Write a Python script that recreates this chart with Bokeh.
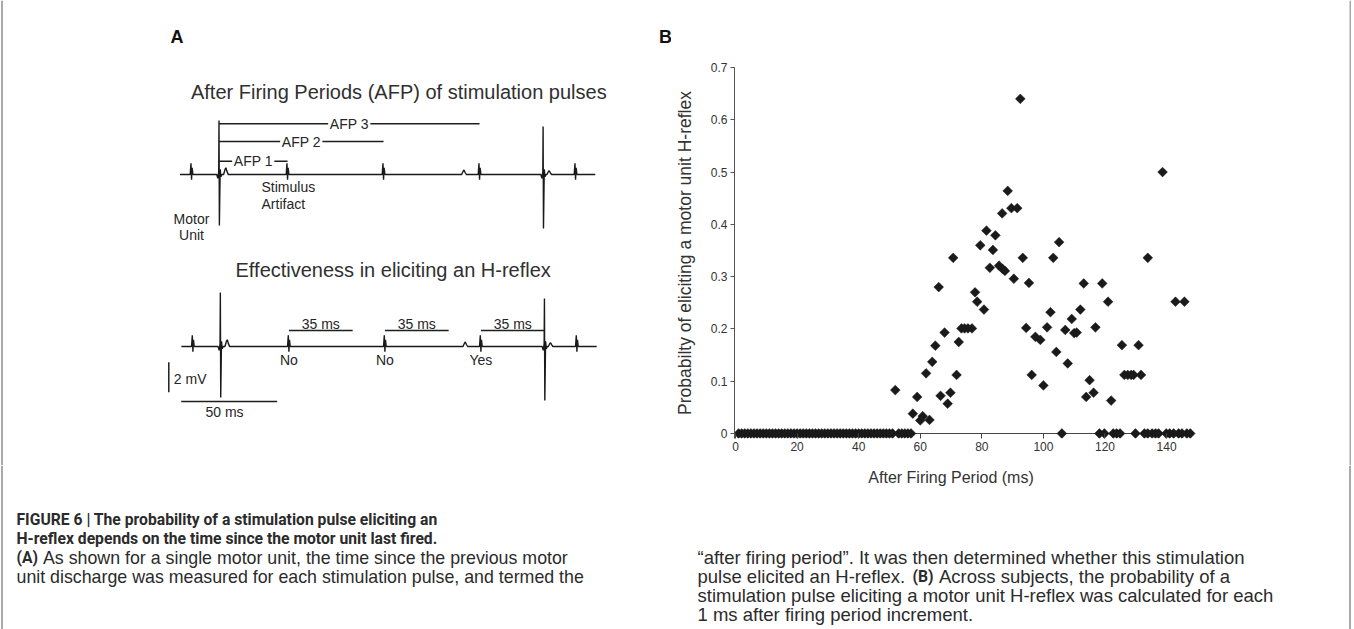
import numpy as np
from bokeh.plotting import figure
from bokeh.layouts import row, column
from bokeh.models import Range1d, FixedTicker, NumeralTickFormatter
from bokeh.core.properties import value
from bokeh.embed import file_html
from bokeh.resources import INLINE

# ---------------- Panel B data ----------------
zero_ms = [1, 2, 3, 4, 5, 6, 7, 8, 9, 10, 11, 12, 13, 14, 15, 16, 17, 18, 19, 20,
           21, 22, 23, 24, 25, 26, 27, 28, 29, 30, 31, 32, 33, 34, 35, 36, 37, 38, 39, 40,
           41, 42, 43, 44, 45, 46, 47, 48, 49, 50, 51, 53, 54, 55, 56, 57,
           106, 118.2, 119.8, 122.7, 123.8, 124.9, 129.9, 132.8, 133.9, 135.3,
           136.4, 137.4, 139.9, 141.0, 142.3, 143.9, 145.0, 146.6, 147.7]
afp_ms = [51.9, 57.6, 59.0, 60.0, 60.8, 61.9, 63.0, 63.9, 64.9, 66.0, 66.6, 67.9, 68.9,
          69.8, 70.7, 71.8, 72.5, 73.4, 74.4, 75.5, 76.8, 77.8, 78.5, 79.5, 80.7, 81.5,
          82.6, 83.6, 84.4, 85.6, 86.6, 86.7, 87.5, 88.4, 89.6, 90.4, 91.5, 92.5, 93.3,
          94.4, 95.3, 96.2, 97.4, 99.0, 100.0, 101.2, 102.3, 103.2, 104.2, 105.1, 107.1,
          107.9, 109.2, 110.0, 110.8, 112.0, 113.1, 113.9, 115.0, 116.3, 116.9, 119.1,
          121.0, 122.0, 125.5, 126.3, 127.4, 128.5, 129.3, 130.9, 131.7, 133.9, 138.7,
          142.9, 145.8]
prob = [0.083, 0.038, 0.070, 0.025, 0.033, 0.115, 0.026, 0.137, 0.168, 0.280, 0.072,
        0.193, 0.057, 0.078, 0.336, 0.112, 0.175, 0.201, 0.201, 0.201, 0.201, 0.270,
        0.252, 0.360, 0.237, 0.388, 0.317, 0.351, 0.379, 0.321, 0.421, 0.315, 0.311,
        0.464, 0.431, 0.296, 0.431, 0.640, 0.336, 0.202, 0.288, 0.112, 0.185, 0.179,
        0.092, 0.203, 0.232, 0.336, 0.156, 0.366, 0.198, 0.134, 0.219, 0.192, 0.193,
        0.237, 0.287, 0.070, 0.102, 0.078, 0.203, 0.287, 0.252, 0.063, 0.169, 0.112,
        0.112, 0.112, 0.112, 0.169, 0.112, 0.336, 0.500, 0.252, 0.252]
x_ticks = [0, 20, 40, 60, 80, 100, 120, 140]
y_ticks = [0, 0.1, 0.2, 0.3, 0.4, 0.5, 0.6, 0.7]

# ---------------- Panel A data (schematic EMG, ms / mV) ----------------
stim_ms = [-14.3, 35.7, 85.7, 135.7, 185.7]
mu_ms = [0.0, 168.8]
mu_peak_mv = [3.6, 3.2]
mu_trough_mv = [-3.4, -3.6]
bump_ms = [3.6, 127.6, 172.0]
bump_mv = [0.45, 0.3, 0.25]
afp_labels = ["AFP 1", "AFP 2", "AFP 3"]
reflex_outcome = ["No", "No", "Yes"]
window_ms = 33.2
window_label = "35 ms"
scale_ms = 50
scale_mv = 2

FONT = value("Liberation Sans")
BOLDCAP = value("Roboto")
TXT = "#262626"
CAPCOL = "#2b2b2b"

# ---------------- layout geometry (page pixels) ----------------
PAGE_W = 1354
PAGE_H = 629
TOP_H = 465
PX_PER_MS_A = 1.92
PX_PER_MV_A = 15.0
A_X0 = 218.5      # page x of t = 0 ms
A_Y0 = 174.0      # page y of top trace baseline
A_W = 671


def a_x(px):
    return (px - A_X0) / PX_PER_MS_A


def a_y(py):
    return (A_Y0 - py) / PX_PER_MV_A


pA = figure(width=A_W, height=TOP_H, x_range=Range1d(a_x(0), a_x(A_W)),
            y_range=Range1d(a_y(TOP_H), a_y(0)), x_axis_type=None, y_axis_type=None,
            output_backend="svg", toolbar_location=None, min_border=0)
pA.outline_line_color = None
pA.grid.visible = False
pA.extra_x_ranges = {"px": Range1d(0, A_W)}
pA.extra_y_ranges = {"px": Range1d(TOP_H, 0)}

art_shape = [(-0.7, 0.0), (-0.3, 0.75), (0.0, -0.35), (0.3, 0.45), (0.7, 0.0)]


def trace(shift, base):
    events = []
    for t in stim_ms:
        events.append((t, art_shape))
    for t, pk, tr in zip(mu_ms, mu_peak_mv, mu_trough_mv):
        events.append((t, [(-1.2, 0), (-0.6, -0.25), (-0.15, 0.2), (0.0, pk), (0.2, tr),
                           (0.6, 0.35), (1.0, -0.15), (1.5, 0)]))
    for t, h in zip(bump_ms, bump_mv):
        events.append((t, [(-1.2, 0), (-0.4, h * 0.8), (0, h), (0.5, h * 0.5), (1.2, 0)]))
    events.sort(key=lambda e: e[0])
    xs = [-20.3 + shift]
    ys = [base]
    for t, shp in events:
        for dx, dy in shp:
            xs.append(t + dx + shift)
            ys.append(base + dy)
    xs.append(196.0 + shift)
    ys.append(base)
    return xs, ys


top_base = 0.0
bot_base = a_y(346)
bot_shift = 0.7

xs, ys = trace(0.0, top_base)
pA.line(xs, ys, line_color="#1a1a1a", line_width=1.4)
xs, ys = trace(bot_shift, bot_base)
pA.line(xs, ys, line_color="#1a1a1a", line_width=1.4)

# AFP brackets
afp_end = stim_ms[1:4]
afp_level = [a_y(160.7), a_y(141.0), a_y(123.3)]
gap = 11.0
x0s, x1s, yb = [], [], []
lab_x = []
for end, lev in zip(afp_end, afp_level):
    c = end / 2.0
    lab_x.append(c)
    x0s += [0.0, c + gap]
    x1s += [c - gap, end]
    yb += [lev, lev]
pA.segment(x0=x0s, y0=yb, x1=x1s, y1=yb, line_color="#1e1e1e", line_width=1.5)
pA.text(x=lab_x, y=afp_level, text=afp_labels, text_font=FONT, text_font_size="14px",
        text_align="center", text_baseline="middle", text_color=TXT)

# 35 ms windows and outcomes
win_y = bot_base + a_y(330) - a_y(346)
wx0 = [t + bot_shift for t in stim_ms[1:4]]
wx1 = [t + window_ms for t in wx0]
pA.segment(x0=wx0, y0=[win_y] * 3, x1=wx1, y1=[win_y] * 3, line_color="#1e1e1e", line_width=1.5)
pA.text(x=[(a + b) / 2 for a, b in zip(wx0, wx1)], y=[bot_base + 1.52] * 3,
        text=[window_label] * 3, text_font=FONT, text_font_size="14px",
        text_align="center", text_baseline="middle", text_color=TXT)
pA.text(x=wx0, y=[bot_base - 0.93] * 3, text=reflex_outcome, text_font=FONT,
        text_font_size="14px", text_align="center", text_baseline="middle", text_color=TXT)

# scale bars
sb_x = a_x(168.3)
sb_y0 = a_y(391.7)
pA.segment(x0=[sb_x], y0=[sb_y0], x1=[sb_x], y1=[sb_y0 + scale_mv], line_color="#1e1e1e", line_width=1.5)
hb_y = a_y(401)
hb_x0 = a_x(180.7)
pA.segment(x0=[hb_x0], y0=[hb_y], x1=[hb_x0 + scale_ms], y1=[hb_y], line_color="#1e1e1e", line_width=1.5)
pA.text(x=[a_x(173.3)], y=[a_y(378.3)], text=[f"{scale_mv} mV"], text_font=FONT,
        text_font_size="14px", text_align="left", text_baseline="middle", text_color=TXT)
pA.text(x=[a_x(224)], y=[a_y(411.7)], text=[f"{scale_ms} ms"], text_font=FONT,
        text_font_size="14px", text_align="center", text_baseline="middle", text_color=TXT)

# annotations
pA.text(x=[a_x(261), a_x(261)], y=[a_y(186.7), a_y(203.3)], text=["Stimulus", "Artifact"],
        text_font=FONT, text_font_size="14px", text_align="left", text_baseline="middle",
        text_color=TXT)
pA.text(x=[a_x(191), a_x(191)], y=[a_y(218), a_y(234)], text=["Motor", "Unit"],
        text_font=FONT, text_font_size="14px", text_align="center", text_baseline="middle",
        text_color=TXT)
pA.text(x=[a_x(398.3)], y=[a_y(91.7)], text=["After Firing Periods (AFP) of stimulation pulses"],
        text_font=FONT, text_font_size="20px", text_align="center", text_baseline="middle",
        text_color="#303030")
pA.text(x=[a_x(392.7)], y=[a_y(269.3)], text=["Effectiveness in eliciting an H-reflex"],
        text_font=FONT, text_font_size="20px", text_align="center", text_baseline="middle",
        text_color="#303030")
pA.text(x=[170, 658.5], y=[36, 36], text=["A", "B"], x_range_name="px", y_range_name="px",
        text_font=FONT, text_font_size="18px", text_font_style="bold", text_align="left",
        text_baseline="middle", text_color="#111111")
# page border (left, upper part)
pA.segment(x0=[1.5], y0=[0], x1=[1.5], y1=[TOP_H], x_range_name="px", y_range_name="px",
           line_color="#555555", line_width=1)

# ---------------- Panel B figure ----------------
B_LEFT = A_W
B_RIGHT = 1349
B_W = B_RIGHT - B_LEFT
B_FRAME_L = 734
B_FRAME_T = 67
B_FRAME_B = 438
ZERO_X = 735.0
PX_PER_MS_B = 3.079
Y0_PX = 433.0
PX_PER_P = (433.0 - 67.0) / 0.7

pB = figure(width=B_W, height=TOP_H,
            x_range=Range1d((B_FRAME_L - ZERO_X) / PX_PER_MS_B, (B_RIGHT - ZERO_X) / PX_PER_MS_B),
            y_range=Range1d((Y0_PX - B_FRAME_B) / PX_PER_P, 0.7),
            output_backend="svg", toolbar_location=None,
            min_border_left=B_FRAME_L - B_LEFT, min_border_right=0,
            min_border_top=B_FRAME_T, min_border_bottom=TOP_H - B_FRAME_B)
pB.outline_line_color = None
pB.grid.visible = False

pB.xaxis.ticker = FixedTicker(ticks=x_ticks)
pB.xaxis.axis_line_color = None
pB.xaxis.major_tick_in = 5
pB.xaxis.major_tick_out = 0
pB.xaxis.major_tick_line_color = "#444444"
pB.xaxis.minor_tick_line_color = None
pB.xaxis.major_label_text_font = "Liberation Sans"
pB.xaxis.major_label_text_font_size = "12px"
pB.xaxis.major_label_text_color = "#333333"
pB.xaxis.major_label_standoff = 3

pB.yaxis.ticker = FixedTicker(ticks=y_ticks)
pB.yaxis.formatter = NumeralTickFormatter(format="0.[0]")
pB.yaxis.axis_line_color = "#555555"
pB.yaxis.major_tick_in = 0
pB.yaxis.major_tick_out = 4
pB.yaxis.major_tick_line_color = "#555555"
pB.yaxis.minor_tick_line_color = None
pB.yaxis.major_label_text_font = "Liberation Sans"
pB.yaxis.major_label_text_font_size = "12px"
pB.yaxis.major_label_text_color = "#333333"
pB.yaxis.major_label_standoff = 3
pB.yaxis.axis_label = "Probabilty of eliciting a motor unit H-reflex"
pB.yaxis.axis_label_text_font = "Liberation Sans"
pB.yaxis.axis_label_text_font_size = "17.5px"
pB.yaxis.axis_label_text_font_style = "normal"
pB.yaxis.axis_label_text_color = "#333333"
pB.yaxis.axis_label_standoff = 13

# x axis line at p = 0 (drawn under the markers)
pB.line([x_ticks[0], 148.7], [0, 0], line_color="#444444", line_width=1)
pB.scatter(zero_ms, [0.0 for _ in zero_ms], marker="square", angle=np.pi / 4, size=6.9,
           fill_color="#1a1a1a", line_color="#1a1a1a", line_width=0.5)
pB.scatter(afp_ms, prob, marker="square", angle=np.pi / 4, size=6.9,
           fill_color="#1a1a1a", line_color="#1a1a1a", line_width=0.5)

# right page border, upper part
pR = figure(width=PAGE_W - B_RIGHT, height=TOP_H, x_range=Range1d(0, PAGE_W - B_RIGHT),
            y_range=Range1d(0, TOP_H), x_axis_type=None, y_axis_type=None,
            output_backend="svg", toolbar_location=None, min_border=0)
pR.outline_line_color = None
pR.grid.visible = False
pR.segment(x0=[0.5], y0=[0], x1=[0.5], y1=[TOP_H], line_color="#555555", line_width=1)

# ---------------- bottom strip: x-axis title + caption ----------------
pC = figure(width=PAGE_W, height=PAGE_H - TOP_H, x_range=Range1d(0, PAGE_W),
            y_range=Range1d(PAGE_H, TOP_H), x_axis_type=None, y_axis_type=None,
            output_backend="svg", toolbar_location=None, min_border=0)
pC.outline_line_color = None
pC.grid.visible = False
pC.segment(x0=[1.5, B_RIGHT + 0.5], y0=[TOP_H, TOP_H], x1=[1.5, B_RIGHT + 0.5], y1=[PAGE_H, PAGE_H],
           line_color="#555555", line_width=1)
pC.text(x=[ZERO_X + PX_PER_MS_B * (x_ticks[0] + x_ticks[-1]) / 2], y=[477],
        text=["After Firing Period (ms)"], text_font=FONT, text_font_size="16px",
        text_color="#333333", text_align="center", text_baseline="middle")

ck = dict(text_align="left", text_baseline="middle", text_color=CAPCOL)
pC.text(x=[16, 16], y=[519, 538],
        text=["FIGURE 6 | The probability of a stimulation pulse eliciting an",
              "H-reflex depends on the time since the motor unit last fired."],
        text_font=BOLDCAP, text_font_style="bold", text_font_size="15.7px", **ck)
pC.text(x=[16], y=[557], text=["(A)"], text_font=BOLDCAP, text_font_style="bold",
        text_font_size="15.7px", **ck)
pC.text(x=[42.5, 16], y=[557, 576],
        text=["As shown for a single motor unit, the time since the previous motor",
              "unit discharge was measured for each stimulation pulse, and termed the"],
        text_font=FONT, text_font_size="17.8px", **ck)
pC.text(x=[697, 697, 697, 697], y=[557, 576, 595, 614],
        text=["\u201cafter firing period\u201d. It was then determined whether this stimulation",
              "pulse elicited an H-reflex.",
              "stimulation pulse eliciting a motor unit H-reflex was calculated for each",
              "1 ms after firing period increment."], text_font=FONT,
        text_font_size="18.5px", **ck)
pC.text(x=[912], y=[576], text=["(B)"], text_font=BOLDCAP, text_font_style="bold",
        text_font_size="15.7px", **ck)
pC.text(x=[938.5], y=[576], text=["Across subjects, the probability of a"], text_font=FONT,
        text_font_size="18.5px", **ck)

layout = column(row(pA, column(pB), pR), pC)
open("out.html", "w").write(file_html(layout, INLINE))
